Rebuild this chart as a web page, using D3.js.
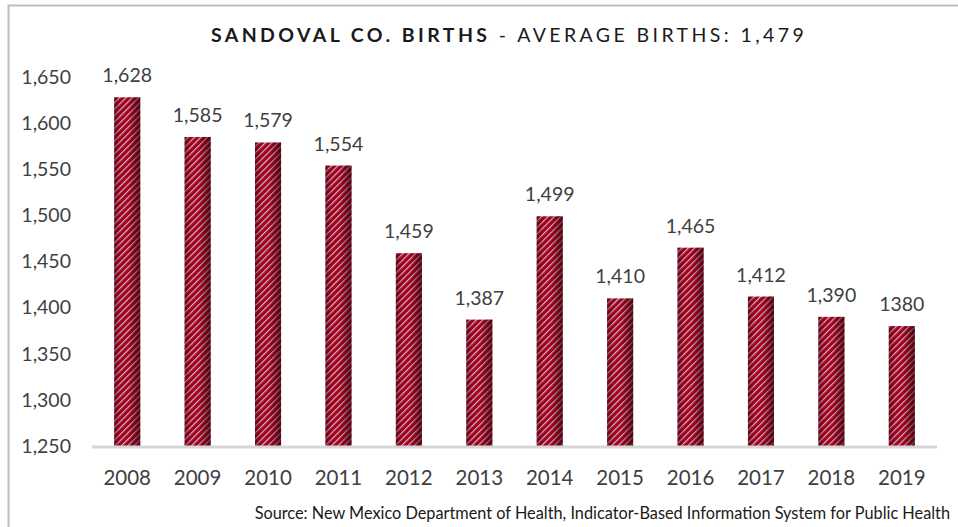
<!DOCTYPE html>
<html>
<head>
<meta charset="utf-8">
<script src="https://cdn.jsdelivr.net/npm/d3@7"></script>
<style>
  body { margin: 0; background: #fff; }
  svg text { font-family: Lato, "Open Sans", sans-serif; }
</style>
</head>
<body>
<svg width="958" height="527"></svg>
<script>
const years = ['2008', '2009', '2010', '2011', '2012', '2013', '2014', '2015', '2016', '2017', '2018', '2019'];
const births = [1628, 1585, 1579, 1554, 1459, 1387, 1499, 1410, 1465, 1412, 1390, 1380];
const valueLabels = ['1,628', '1,585', '1,579', '1,554', '1,459', '1,387', '1,499', '1,410', '1,465', '1,412', '1,390', '1380'];
const yTicks = [1250, 1300, 1350, 1400, 1450, 1500, 1550, 1600, 1650];

const svg = d3.select('svg');

// chart frame
svg.append('path')
  .attr('d', 'M8.5,527 L8.5,5.5 L958,5.5')
  .attr('fill', 'none')
  .attr('stroke', '#bdbdbd')
  .attr('stroke-width', 2);

const defs = svg.append('defs');

// striped fill
const pat = defs.append('pattern')
  .attr('id', 'stripes')
  .attr('patternUnits', 'userSpaceOnUse')
  .attr('width', 4.5)
  .attr('height', 4.5)
  .attr('patternTransform', 'rotate(45)');
pat.append('rect').attr('width', 4.5).attr('height', 4.5).attr('fill', '#a50018');
pat.append('rect').attr('width', 1.2).attr('height', 4.5).attr('fill', '#c9b6d2');

// shading across the bar
const grad = defs.append('linearGradient').attr('id', 'shade');
grad.append('stop').attr('offset', '0%').attr('stop-color', '#2a0008').attr('stop-opacity', 0.45);
grad.append('stop').attr('offset', '25%').attr('stop-color', '#2a0008').attr('stop-opacity', 0);
grad.append('stop').attr('offset', '55%').attr('stop-color', '#2a0008').attr('stop-opacity', 0);
grad.append('stop').attr('offset', '100%').attr('stop-color', '#2a0008').attr('stop-opacity', 0.65);

const x = d3.scaleBand().domain(years).range([92, 937]).paddingInner(0.63).paddingOuter(0.315);
const y = d3.scaleLinear().domain([1250, 1650]).range([446, 77]);

// y tick labels
svg.append('g')
  .selectAll('text')
  .data(yTicks)
  .join('text')
  .attr('x', 71)
  .attr('y', (d) => y(d))
  .attr('dy', '0.35em')
  .attr('text-anchor', 'end')
  .attr('font-size', 19.5)
  .attr('fill', '#404040')
  .text(d3.format(','));

const bars = svg.append('g')
  .selectAll('g')
  .data(births)
  .join('g');

bars.append('rect')
  .attr('x', (d, i) => x(years[i]))
  .attr('y', (d) => y(d))
  .attr('width', x.bandwidth())
  .attr('height', (d) => y(1250) - y(d))
  .attr('fill', 'url(#stripes)');

bars.append('rect')
  .attr('x', (d, i) => x(years[i]))
  .attr('y', (d) => y(d))
  .attr('width', x.bandwidth())
  .attr('height', (d) => y(1250) - y(d))
  .attr('fill', 'url(#shade)');

// value labels
svg.append('g')
  .selectAll('text')
  .data(births)
  .join('text')
  .attr('x', (d, i) => x(years[i]) + x.bandwidth() / 2)
  .attr('y', (d) => y(d) - 15)
  .attr('text-anchor', 'middle')
  .attr('font-size', 19.5)
  .attr('fill', '#404040')
  .text((d, i) => valueLabels[i]);

// baseline
svg.append('line')
  .attr('x1', 92)
  .attr('x2', 937)
  .attr('y1', y(1250) + 1)
  .attr('y2', y(1250) + 1)
  .attr('stroke', '#d6d6d6')
  .attr('stroke-width', 3);

// x axis labels
svg.append('g')
  .selectAll('text')
  .data(years)
  .join('text')
  .attr('x', (d) => x(d) + x.bandwidth() / 2)
  .attr('y', 485)
  .attr('text-anchor', 'middle')
  .attr('font-size', 20.5)
  .attr('fill', '#404040')
  .text((d) => d);

// title
const title = svg.append('text')
  .attr('x', 509)
  .attr('y', 42)
  .attr('text-anchor', 'middle')
  .attr('font-size', 19.5)
  .attr('letter-spacing', 3.4)
  .attr('fill', '#1a1a1a');
title.append('tspan').attr('font-weight', 'bold').text('SANDOVAL CO. BIRTHS');
title.append('tspan').text(' - AVERAGE BIRTHS: 1,479');

// source
svg.append('text')
  .attr('x', 950)
  .attr('y', 519)
  .attr('text-anchor', 'end')
  .attr('font-size', 16.3)
  .attr('fill', '#1a1a1a')
  .text('Source: New Mexico Department of Health, Indicator-Based Information System for Public Health');
</script>
</body>
</html>
